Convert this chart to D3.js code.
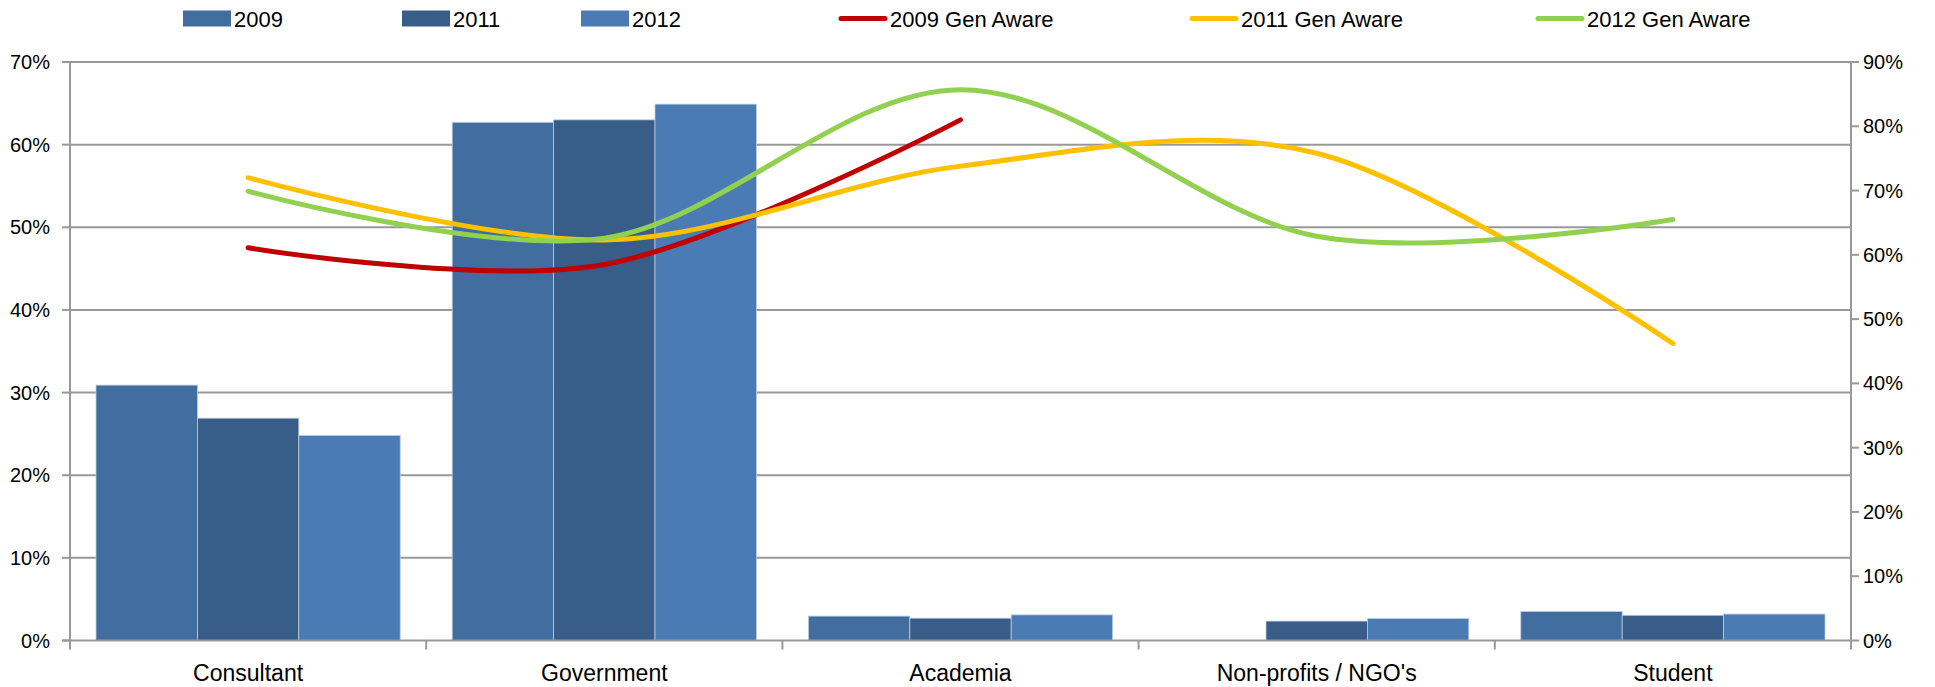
<!DOCTYPE html>
<html>
<head>
<meta charset="utf-8">
<script src="https://cdn.jsdelivr.net/npm/d3@7"></script>
<style>
  body { margin: 0; background: #fff; }
  text { font-family: "Liberation Sans", Arial, sans-serif; fill: #000; }
</style>
</head>
<body>
<svg id="chart" width="1935" height="687"></svg>
<script>
const categories = ["Consultant", "Government", "Academia", "Non-profits / NGO's", "Student"];
const barSeries = ["2009", "2011", "2012"];
const bars2009 = [30.9, 62.7, 2.95, null, 3.5];
const bars2011 = [26.9, 63.0, 2.7, 2.35, 3.05];
const bars2012 = [24.8, 64.9, 3.1, 2.65, 3.2];
const lineSeries = ["2009 Gen Aware", "2011 Gen Aware", "2012 Gen Aware"];
const aware2009 = [61.1, 58.5, 81.0, null, null];
const aware2011 = [72.0, 62.3, 73.8, 75.8, 46.2];
const aware2012 = [69.9, 62.6, 85.7, 62.9, 65.5];
const leftTicks = [0, 10, 20, 30, 40, 50, 60, 70];
const rightTicks = [0, 10, 20, 30, 40, 50, 60, 70, 80, 90];

const barColors = ["#426d9f", "#385d89", "#4a7bb4"];
const lineColors = ["#c00000", "#ffc000", "#92d050"];

const svg = d3.select("#chart");
const plotLeft = 70, plotRight = 1851, plotTop = 62, plotBottom = 640.5;

const x0 = d3.scaleBand().domain(categories).range([plotLeft, plotRight]);
const gap = x0.bandwidth() * 0.073;
const x1 = d3.scaleBand().domain(barSeries).range([gap, x0.bandwidth() - gap]);
const yL = d3.scaleLinear().domain([0, 70]).range([plotBottom, plotTop]);
const yR = d3.scaleLinear().domain([0, 90]).range([plotBottom, plotTop]);

// gridlines
svg.append("g")
  .selectAll("line")
  .data(leftTicks.slice(1))
  .enter()
  .append("line")
  .attr("x1", plotLeft).attr("x2", plotRight)
  .attr("y1", d => yL(d)).attr("y2", d => yL(d))
  .attr("stroke", "#999").attr("stroke-width", 2);

// bars
const barData = [bars2009, bars2011, bars2012];
barSeries.forEach((s, i) => {
  svg.append("g")
    .selectAll("rect")
    .data(categories.map((c, j) => ({ c, v: barData[i][j] })).filter(d => d.v != null))
    .enter()
    .append("rect")
    .attr("x", d => x0(d.c) + x1(s))
    .attr("width", x1.bandwidth())
    .attr("y", d => yL(d.v))
    .attr("height", d => plotBottom - yL(d.v))
    .attr("fill", barColors[i])
    .attr("stroke", "#b9cbe2")
    .attr("stroke-width", 0.8);
});

// axes
const axisG = svg.append("g").attr("stroke", "#999").attr("stroke-width", 2);
axisG.append("line").attr("x1", plotLeft).attr("x2", plotLeft).attr("y1", plotTop).attr("y2", plotBottom);
axisG.append("line").attr("x1", plotRight).attr("x2", plotRight).attr("y1", plotTop).attr("y2", plotBottom + 9);
axisG.append("line").attr("x1", plotLeft - 8).attr("x2", plotRight + 1).attr("y1", plotBottom).attr("y2", plotBottom);

leftTicks.forEach(t => {
  axisG.append("line").attr("x1", plotLeft - 8).attr("x2", plotLeft).attr("y1", yL(t)).attr("y2", yL(t));
});
rightTicks.forEach(t => {
  axisG.append("line").attr("x1", plotRight).attr("x2", plotRight + 8).attr("y1", yR(t)).attr("y2", yR(t));
});
categories.forEach(c => {
  axisG.append("line").attr("x1", x0(c)).attr("x2", x0(c)).attr("y1", plotBottom).attr("y2", plotBottom + 9);
});

svg.append("g")
  .selectAll("text")
  .data(leftTicks)
  .enter()
  .append("text")
  .attr("x", 50)
  .attr("y", d => yL(d) + 7)
  .attr("text-anchor", "end")
  .style("font-size", "20px")
  .text(d => d + "%");

svg.append("g")
  .selectAll("text")
  .data(rightTicks)
  .enter()
  .append("text")
  .attr("x", 1863)
  .attr("y", d => yR(d) + 7)
  .style("font-size", "20px")
  .text(d => d + "%");

svg.append("g")
  .selectAll("text")
  .data(categories)
  .enter()
  .append("text")
  .attr("x", d => x0(d) + x0.bandwidth() / 2)
  .attr("y", 681)
  .attr("text-anchor", "middle")
  .style("font-size", "23px")
  .text(d => d);

// lines
const lineData = [aware2009, aware2011, aware2012];
const line = d3.line()
  .defined(d => d.v != null)
  .x(d => x0(d.c) + x0.bandwidth() / 2)
  .y(d => yR(d.v))
  .curve(d3.curveCardinal.tension(0));

lineData.forEach((arr, i) => {
  svg.append("path")
    .datum(categories.map((c, j) => ({ c, v: arr[j] })))
    .attr("d", line)
    .attr("fill", "none")
    .attr("stroke", lineColors[i])
    .attr("stroke-width", 5)
    .attr("stroke-linecap", "round");
});

// legend
const legendX = [183, 402, 581, 839, 1190, 1536];
const legendY = 18.5;
const legend = svg.append("g");
barSeries.forEach((s, i) => {
  legend.append("rect")
    .attr("x", legendX[i]).attr("y", legendY - 8)
    .attr("width", 48).attr("height", 16)
    .attr("fill", barColors[i]);
  legend.append("text")
    .attr("x", legendX[i] + 51).attr("y", legendY + 8)
    .style("font-size", "22px")
    .text(s);
});
lineSeries.forEach((s, i) => {
  const lx = legendX[i + 3];
  legend.append("line")
    .attr("x1", lx + 2).attr("x2", lx + 46)
    .attr("y1", legendY).attr("y2", legendY)
    .attr("stroke", lineColors[i])
    .attr("stroke-width", 5)
    .attr("stroke-linecap", "round");
  legend.append("text")
    .attr("x", lx + 51).attr("y", legendY + 8)
    .style("font-size", "22px")
    .text(s);
});
</script>
</body>
</html>
